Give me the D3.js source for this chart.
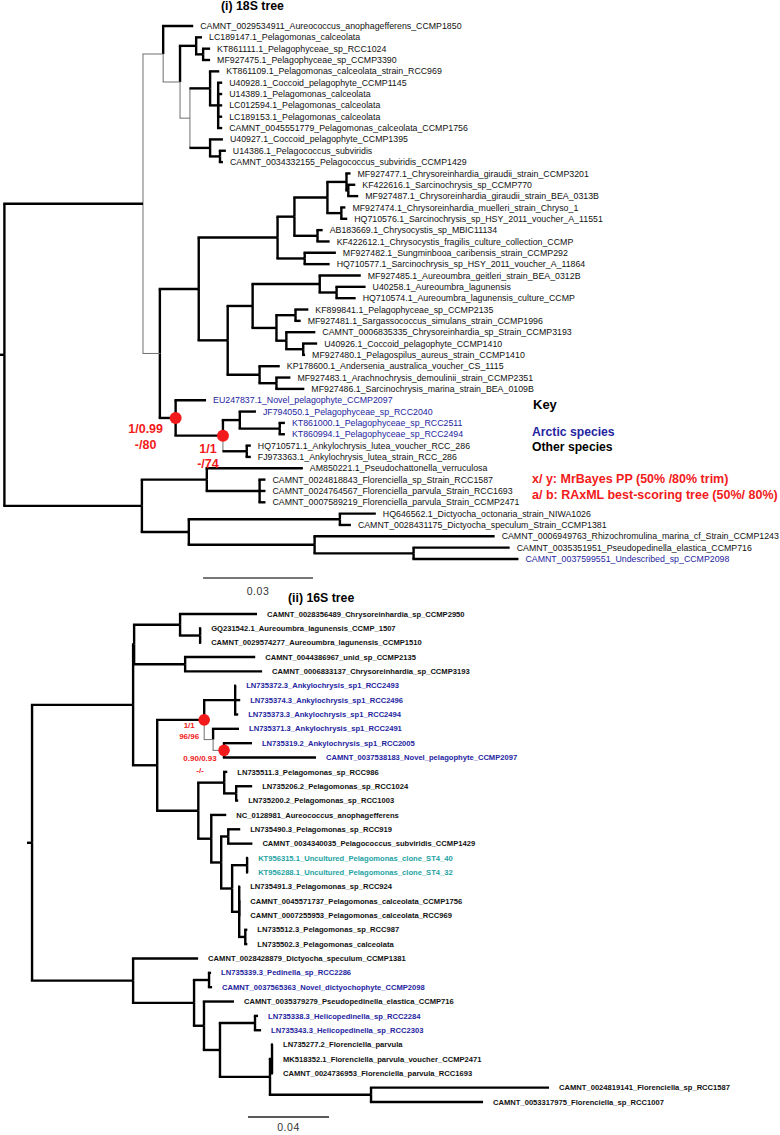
<!DOCTYPE html>
<html>
<head>
<meta charset="utf-8">
<script src="https://cdn.jsdelivr.net/npm/d3@7"></script>
<style>
  body { margin: 0; background: #fff; }
  svg { display: block; }
  text { font-family: "Liberation Sans", Arial, Helvetica, sans-serif; }
</style>
</head>
<body>
<svg id="chart" width="780" height="1135"></svg>
<script>
// ---- data: topology + branch lengths (substitutions/site) ----
const tree18S = `(
 ((CAMNT_0029534911_Aureococcus_anophagefferens_CCMP1850:0.0082,
   ((LC189147.1_Pelagomonas_calceolata:0.0016,(KT861111.1_Pelagophyceae_sp_RCC1024:0.0019,MF927475.1_Pelagophyceae_sp_CCMP3390:0.0019)P2:0.0019)P1:0.0044,
    ((KT861109.1_Pelagomonas_calceolata_strain_RCC969:0.0025,(U40928.1_Coccoid_pelagophyte_CCMP1145:0.0011,U14389.1_Pelagomonas_calceolata:0.0011,LC012594.1_Pelagomonas_calceolata:0.0011,LC189153.1_Pelagomonas_calceolata:0.0011,CAMNT_0045551779_Pelagomonas_calceolata_CCMP1756:0.0011)P5:0.0022)P4:0.0055,
     (U40927.1_Coccoid_pelagophyte_CCMP1395:0.0035,(U14386.1_Pelagococcus_subviridis:0.0016,CAMNT_0034332155_Pelagococcus_subviridis_CCMP1429:0.0008)P7:0.0027)P6:0.0055)P3:0.0027
   )A1b:0.0046)A1:0.0055,
  ((((((MF927477.1_Chrysoreinhardia_giraudii_strain_CCMP3201:0.0011,(KF422616.1_Sarcinochrysis_sp_CCMP770:0.0019,MF927487.1_Chrysoreinhardia_giraudii_strain_BEA_0313B:0.0027)F:0.0005)F0:0.0052,
        (MF927474.1_Chrysoreinhardia_muelleri_strain_Chryso_1:0.0011,HQ710576.1_Sarcinochrysis_sp_HSY_2011_voucher_A_11551:0.0016)F2:0.0038)E:0.0090,
       (AB183669.1_Chrysocystis_sp_MBIC11134:0.0014,KF422612.1_Chrysocystis_fragilis_culture_collection_CCMP:0.0033)H:0.0063)D:0.0046,
      (MF927482.1_Sungminbooa_caribensis_strain_CCMP292:0.0085,HQ710577.1_Sarcinochrysis_sp_HSY_2011_voucher_A_11864:0.0068)G:0.0074)C:0.0215,
     (((MF927485.1_Aureoumbra_geitleri_strain_BEA_0312B:0.0112,(U40258.1_Aureoumbra_lagunensis:0.0079,HQ710574.1_Aureoumbra_lagunensis_culture_CCMP:0.0052)L2:0.0046)L:0.0183,
       ((KF899841.1_Pelagophyceae_sp_CCMP2135:0.0035,MF927481.1_Sargassococcus_simulans_strain_CCMP1996:0.0014)M1:0.0052,
        (CAMNT_0006835335_Chrysoreinhardia_sp_Strain_CCMP3193:0.0079,(U40926.1_Coccoid_pelagophyte_CCMP1410:0.0038,MF927480.1_Pelagospilus_aureus_strain_CCMP1410:0.0005)M3:0.0046)M2:0.0027)M:0.0065)J:0.0068,
      (KP178600.1_Andersenia_australica_voucher_CS_1115:0.0055,(MF927483.1_Arachnochrysis_demoulinii_strain_CCMP2351:0.0038,MF927486.1_Sarcinochrysis_marina_strain_BEA_0109B:0.0076)K2:0.0046)K:0.0087)I:0.0079)B:0.0106,
    (EU247837.1_Novel_pelagophyte_CCMP2097:0.0083,
     ((JF794050.1_Pelagophyceae_sp_RCC2040:0.0044,(KT861000.1_Pelagophyceae_sp_RCC2511:0.0014,KT860994.1_Pelagophyceae_sp_RCC2494:0.0014)Q2:0.0109)Q:0.0046,
      (HQ710571.1_Ankylochrysis_lutea_voucher_RCC_286:0.0011,FJ973363.1_Ankylochrysis_lutea_strain_RCC_286:0.0011)Q3:0.0065)N2:0.0129)N1:0.0043
   )A2:0.0046
 )A:0.0378,
 ((AM850221.1_Pseudochattonella_verruculosa:0.0262,(CAMNT_0024818843_Florenciella_sp_Strain_RCC1587:0.0016,CAMNT_0024764567_Florenciella_parvula_Strain_RCC1693:0.0016,CAMNT_0007589219_Florenciella_parvula_Strain_CCMP2471:0.0016)Z1b:0.0144)Z1:0.0177,
  ((HQ646562.1_Dictyocha_octonaria_strain_NIWA1026:0.0098,CAMNT_0028431175_Dictyocha_speculum_Strain_CCMP1381:0.0030)Z3:0.0412,
   (CAMNT_0006949763_Rhizochromulina_marina_cf_Strain_CCMP1243:0.0491,(CAMNT_0035351951_Pseudopedinella_elastica_CCMP716:0.0262,CAMNT_0037599551_Undescribed_sp_CCMP2098:0.0286)Z5:0.0270)Z4:0.0343)Z2:0.0128
 )Z:0.0375
)R:0.0012;`;

const tree16S = `(
 (((CAMNT_0028356489_Chrysoreinhardia_sp_CCMP2950:0.0380,(GQ231542.1_Aureoumbra_lagunensis_CCMP_1507:0.0005,CAMNT_0029574277_Aureoumbra_lagunensis_CCMP1510:0.0005)V2:0.0099)V:0.0227,
   (CAMNT_0044386967_unid_sp_CCMP2135:0.0346,CAMNT_0006833137_Chrysoreinhardia_sp_CCMP3193:0.0380)W:0.0252)U:0.0005,
  (((LN735372.3_Ankylochrysis_sp1_RCC2493:0.0005,LN735374.3_Ankylochrysis_sp1_RCC2496:0.0025,LN735373.3_Ankylochrysis_sp1_RCC2494:0.0015)Y1:0.0153,
    (LN735371.3_Ankylochrysis_sp1_RCC2491:0.0128,(LN735319.2_Ankylochrysis_sp1_RCC2005:0.0138,CAMNT_0037538183_Novel_pelagophyte_CCMP2097:0.0454)Y3:0.0054)Y2:0.0044)Y:0.0232,
   ((LN735511.3_Pelagomonas_sp_RCC986:0.0015,(LN735206.2_Pelagomonas_sp_RCC1024:0.0079,LN735200.2_Pelagomonas_sp_RCC1003:0.0010)AB2:0.0059)AB:0.0128,
    (NC_0128981_Aureococcus_anophagefferens:0.0074,
     ((LN735490.3_Pelagomonas_sp_RCC919:0.0059,CAMNT_0034340035_Pelagococcus_subviridis_CCMP1429:0.0119)AE:0.0035,
      ((KT956315.1_Uncultured_Pelagomonas_clone_ST4_40:0.0005,KT956288.1_Uncultured_Pelagomonas_clone_ST4_32:0.0005)AG:0.0074,
       (LN735491.3_Pelagomonas_sp_RCC924:0.0005,CAMNT_0045571737_Pelagomonas_calceolata_CCMP1756:0.0005,CAMNT_0007255953_Pelagomonas_calceolata_RCC969:0.0005,(LN735512.3_Pelagomonas_sp_RCC987:0.0010,LN735502.3_Pelagomonas_calceolata:0.0010)AJ:0.0030)AH:0.0035)AF:0.0054)AD:0.0049)AC:0.0064)AA:0.0203)X:0.0119
 )S:0.0499,
 (CAMNT_0028428879_Dictyocha_speculum_CCMP1381:0.0321,
  ((LN735339.3_Pedinella_sp_RCC2286:0.0010,CAMNT_0037565363_Novel_dictyochophyte_CCMP2098:0.0015)BC:0.0074,
   (CAMNT_0035379279_Pseudopedinella_elastica_CCMP716:0.0148,
    ((LN735338.3_Helicopedinella_sp_RCC2284:0.0015,LN735343.3_Helicopedinella_sp_RCC2303:0.0030)BF:0.0173,
     ((LN735277.2_Florenciella_parvula:0.0005,MK518352.1_Florenciella_parvula_voucher_CCMP2471:0.0005,CAMNT_0024736953_Florenciella_parvula_RCC1693:0.0005)BH:0.0010,
      (CAMNT_0024819141_Florenciella_sp_RCC1587:0.0879,CAMNT_0053317975_Florenciella_sp_RCC1007:0.0553)BI:0.0499)BG:0.0247)BE:0.0079)BD:0.0049)BB:0.0301
 )BA:0.0499
)R2:0.0025;`;

// arctic isolates (blue) and environmental clones (teal)
const arctic18S = ["EU247837.1_Novel_pelagophyte_CCMP2097", "JF794050.1_Pelagophyceae_sp_RCC2040",
  "KT861000.1_Pelagophyceae_sp_RCC2511", "KT860994.1_Pelagophyceae_sp_RCC2494",
  "CAMNT_0037599551_Undescribed_sp_CCMP2098"];
const arctic16S = ["LN735372.3_Ankylochrysis_sp1_RCC2493", "LN735374.3_Ankylochrysis_sp1_RCC2496",
  "LN735373.3_Ankylochrysis_sp1_RCC2494", "LN735371.3_Ankylochrysis_sp1_RCC2491",
  "LN735319.2_Ankylochrysis_sp1_RCC2005", "CAMNT_0037538183_Novel_pelagophyte_CCMP2097",
  "LN735339.3_Pedinella_sp_RCC2286", "CAMNT_0037565363_Novel_dictyochophyte_CCMP2098",
  "LN735338.3_Helicopedinella_sp_RCC2284", "LN735343.3_Helicopedinella_sp_RCC2303"];
const clones16S = ["KT956315.1_Uncultured_Pelagomonas_clone_ST4_40", "KT956288.1_Uncultured_Pelagomonas_clone_ST4_32"];

// weakly supported branches drawn thin (whole elbow), and elbows with only the vertical part thin
const thin18S = ["A1", "A1b", "P3", "A2"];
const thinVert18S = ["P4", "P6", "Q3"];
const thin16S = ["Y2", "Y3"];
const thinVert16S = [];

// support values at the highlighted nodes
const support18S = [
  {node: "N1", lines: ["1/0.99", "-/80"]},
  {node: "N2", lines: ["1/1", "-/74"]}
];
const support16S = [
  {node: "Y", lines: ["1/1", "96/96"]},
  {node: "Y3", lines: ["0.90/0.93", "-/-"]}
];

const legendLines = ["x/ y: MrBayes PP (50% /80% trim)", "a/ b: RAxML best-scoring tree (50%/ 80%)"];

const BLUE = "#2424a0", TEAL = "#1ea3a3", RED = "#f21a1a";

// ---- newick parser ----
function parseNewick(str) {
  const s = str.replace(/\s+/g, "");
  let i = 0;
  function node() {
    const n = {};
    if (s[i] === "(") {
      n.children = [];
      i++;
      n.children.push(node());
      while (s[i] === ",") { i++; n.children.push(node()); }
      i++;
    }
    let name = "";
    while (i < s.length && !",():;".includes(s[i])) name += s[i++];
    n.name = name;
    n.length = 0;
    if (s[i] === ":") {
      i++;
      let num = "";
      while (i < s.length && !",();".includes(s[i])) num += s[i++];
      n.length = +num;
    }
    return n;
  }
  return node();
}

const svg = d3.select("#chart");

function drawTree(cfg) {
  const root = d3.hierarchy(parseNewick(cfg.newick));
  const leaves = root.leaves();

  const y = d3.scaleLinear().domain([0, leaves.length - 1]).range(cfg.yRange);
  const x = d3.scaleLinear().domain([0, cfg.barValue]).range([0, cfg.barPx]);

  leaves.forEach((d, i) => { d.y = y(i); });
  root.eachAfter(d => {
    if (d.children) d.y = (d.children[0].y + d.children[d.children.length - 1].y) / 2;
  });
  root.eachBefore(d => {
    d.len = (d.parent ? d.parent.len : 0) + d.data.length;
    d.x = cfg.x0 + x(d.len);
  });

  const g = svg.append("g");

  const thinStyle = {w: 1, c: "#707070"};
  const thickStyle = {w: cfg.thick, c: "#000"};
  const hStyle = d => cfg.thin.includes(d.data.name) ? thinStyle : thickStyle;
  const vStyle = d => (cfg.thin.includes(d.data.name) || cfg.thinVert.includes(d.data.name)) ? thinStyle : thickStyle;

  const branches = root.descendants().filter(d => d.parent);

  // root stem
  g.append("path")
    .attr("d", `M${cfg.x0},${root.y}H${root.x}`)
    .attr("fill", "none").attr("stroke", "#000").attr("stroke-width", cfg.thick);

  // vertical connectors (parent x, parent y -> child y)
  g.selectAll("path.vert")
    .data(branches)
    .enter().append("path")
    .attr("class", "vert")
    .attr("d", d => `M${d.parent.x},${d.parent.y}V${d.y}`)
    .attr("fill", "none")
    .attr("stroke", d => vStyle(d).c)
    .attr("stroke-width", d => vStyle(d).w);

  // horizontal branches
  g.selectAll("path.branch")
    .data(branches)
    .enter().append("path")
    .attr("class", "branch")
    .attr("d", d => `M${d.parent.x - vStyle(d).w / 2},${d.y}H${d.x}`)
    .attr("fill", "none")
    .attr("stroke", d => hStyle(d).c)
    .attr("stroke-width", d => hStyle(d).w);

  g.selectAll("text.tip")
    .data(leaves)
    .enter().append("text")
    .attr("class", "tip")
    .attr("x", d => d.x + cfg.gap)
    .attr("y", d => d.y)
    .attr("dy", "0.35em")
    .attr("font-size", cfg.fontSize)
    .attr("font-weight", cfg.bold ? "bold" : "normal")
    .attr("fill", d => cfg.colour(d.data.name))
    .text(d => d.data.name);

  // support nodes
  const byName = new Map(root.descendants().map(d => [d.data.name, d]));
  cfg.support.forEach((s, k) => {
    const n = byName.get(s.node);
    g.append("circle").attr("cx", n.x).attr("cy", n.y).attr("r", cfg.dotR).attr("fill", RED);
    const off = cfg.supportOffsets[k];
    s.lines.forEach((t, j) => {
      g.append("text")
        .attr("x", n.x + off.dx)
        .attr("y", n.y + off.dy + j * cfg.supportStep)
        .attr("dy", "0.35em")
        .attr("text-anchor", "middle")
        .attr("font-size", cfg.supportSize)
        .attr("font-weight", "bold")
        .attr("fill", RED)
        .text(t);
    });
  });

  // scale bar
  g.append("line")
    .attr("x1", cfg.bar[0]).attr("x2", cfg.bar[0] + x(cfg.barValue))
    .attr("y1", cfg.bar[1]).attr("y2", cfg.bar[1])
    .attr("stroke", cfg.barColour).attr("stroke-width", cfg.barWidth);
  g.append("text")
    .attr("x", cfg.bar[0] + x(cfg.barValue) / 2)
    .attr("y", cfg.bar[1] + cfg.barLabelDy)
    .attr("dy", "0.35em")
    .attr("text-anchor", "middle")
    .attr("font-size", 10.5)
    .attr("fill", "#333")
    .attr("letter-spacing", "0.5px")
    .text(cfg.barValue);

  // title
  g.append("text")
    .attr("x", cfg.title[1]).attr("y", cfg.title[2])
    .attr("dy", "0.35em")
    .attr("font-size", 12.3).attr("font-weight", "bold")
    .text(cfg.title[0]);
}

drawTree({
  newick: tree18S,
  yRange: [26, 559],
  x0: 0, barValue: 0.03, barPx: 110,
  thick: 2.4, thin: thin18S, thinVert: thinVert18S, gap: 7,
  fontSize: 8.8, bold: false,
  colour: n => arctic18S.includes(n) ? BLUE : "#111",
  support: support18S,
  supportOffsets: [{dx: -30, dy: 11}, {dx: -15, dy: 12.5}],
  supportStep: 15.5, supportSize: 12.5, dotR: 6,
  bar: [203, 578], barLabelDy: 13, barColour: "#777", barWidth: 2,
  title: ["(i) 18S tree", 221, 6]
});

drawTree({
  newick: tree16S,
  yRange: [614, 1102],
  x0: 27, barValue: 0.04, barPx: 81,
  thick: 2.4, thin: thin16S, thinVert: thinVert16S, gap: 10,
  fontSize: 7.6, bold: true,
  colour: n => arctic16S.includes(n) ? BLUE : clones16S.includes(n) ? TEAL : "#111",
  support: support16S,
  supportOffsets: [{dx: -15, dy: 5}, {dx: -24, dy: 8}],
  supportStep: 11.5, supportSize: 8, dotR: 5.8,
  bar: [248, 1117], barLabelDy: 10, barColour: "#222", barWidth: 1.5,
  title: ["(ii) 16S tree", 288, 598]
});

// key / legend
const legend = svg.append("g");
legend.append("text").attr("x", 533).attr("y", 404).attr("dy", "0.35em")
  .attr("font-size", 13).attr("font-weight", "bold").text("Key");
legend.append("text").attr("x", 532).attr("y", 432).attr("dy", "0.35em")
  .attr("font-size", 12.2).attr("font-weight", "bold").attr("fill", BLUE).text("Arctic species");
legend.append("text").attr("x", 532).attr("y", 447).attr("dy", "0.35em")
  .attr("font-size", 12.2).attr("font-weight", "bold").text("Other species");
legendLines.forEach((t, i) => {
  legend.append("text").attr("x", 532).attr("y", 479 + i * 15.5).attr("dy", "0.35em")
    .attr("font-size", 12.5).attr("font-weight", "bold").attr("fill", RED).text(t);
});
</script>
</body>
</html>
